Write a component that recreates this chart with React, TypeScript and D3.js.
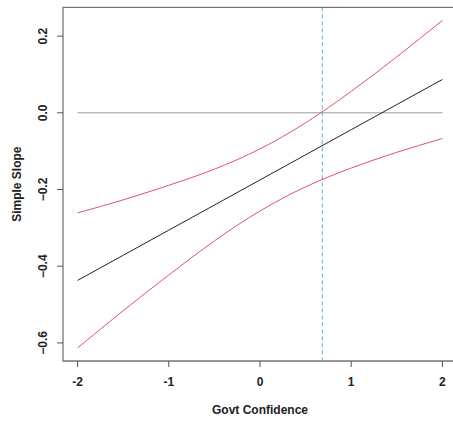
import React from "react";
import * as d3 from "d3";

const govtConfidence = [-2, -1.5, -1, -0.5, 0, 0.5, 1, 1.5, 2];
const simpleSlope = [-0.437, -0.3715, -0.306, -0.2405, -0.175, -0.1095, -0.044, 0.0215, 0.087];
const upperBand = [-0.261, -0.227, -0.189, -0.147, -0.094, -0.026, 0.056, 0.146, 0.241];
const lowerBand = [-0.613, -0.516, -0.423, -0.334, -0.256, -0.193, -0.144, -0.103, -0.067];
const xTicks = [-2, -1, 0, 1, 2];
const yTicks = [-0.6, -0.4, -0.2, 0.0, 0.2];
const jnPoint = [0.683];
const refLine = [0];

const W = 453;
const H = 422;
const left = 63;
const top = 7.3;
const right = 457;
const bottom = 361;

export default function App() {
  const xPad = (2 - -2) * 0.04;
  const x = d3.scaleLinear().domain([-2 - xPad, 2 + xPad]).range([left, right]);
  const yMin = d3.min(lowerBand) as number;
  const yMax = d3.max(upperBand) as number;
  const yPad = (yMax - yMin) * 0.04;
  const y = d3.scaleLinear().domain([yMin - yPad, yMax + yPad]).range([bottom, top]);

  const line = d3
    .line<number>()
    .x((_, i) => x(govtConfidence[i]))
    .y((d) => y(d))
    .curve(d3.curveNatural);

  const font = "'Liberation Sans', Arial, sans-serif";
  const tickFmt = d3.format(".1f");

  return (
    <svg
      width={W}
      height={H}
      style={{ position: "absolute", left: 0, top: 0, background: "#fff" }}
      fontFamily={font}
    >
      {refLine.map((v) => (
        <line
          key={"r" + v}
          x1={x(-2)}
          x2={x(2)}
          y1={y(v)}
          y2={y(v)}
          stroke="#9a9a9a"
          strokeWidth={1}
        />
      ))}
      {jnPoint.map((v) => (
        <line
          key={"j" + v}
          x1={x(v)}
          x2={x(v)}
          y1={top}
          y2={bottom}
          stroke="#5aaede"
          strokeWidth={1}
          strokeDasharray="4,3"
        />
      ))}
      <path d={line(upperBand) || ""} fill="none" stroke="#DF536B" strokeWidth={1} />
      <path d={line(lowerBand) || ""} fill="none" stroke="#DF536B" strokeWidth={1} />
      <path d={line(simpleSlope) || ""} fill="none" stroke="#222" strokeWidth={1} />

      <path
        d={`M${right + 20},${top}H${left}V${bottom}H${right + 20}`}
        fill="none"
        stroke="#777"
        strokeWidth={1.3}
      />

      {xTicks.map((t) => (
        <g key={"x" + t}>
          <line x1={x(t)} x2={x(t)} y1={bottom} y2={bottom + 6} stroke="#555" strokeWidth={1} />
          <text x={x(t)} y={386} textAnchor="middle" fontSize={12} fontWeight="bold" fill="#222">
            {t}
          </text>
        </g>
      ))}
      {yTicks.map((t) => (
        <g key={"y" + t}>
          <line x1={left - 6} x2={left} y1={y(t)} y2={y(t)} stroke="#555" strokeWidth={1} />
          <text
            transform={`translate(47,${y(t)}) rotate(-90)`}
            textAnchor="middle"
            fontSize={12}
            fontWeight="bold"
            fill="#222"
          >
            {tickFmt(t)}
          </text>
        </g>
      ))}
      <text x={(left + right) / 2} y={414} textAnchor="middle" fontSize={12} fontWeight="bold" fill="#222">
        Govt Confidence
      </text>
      <text
        transform={`translate(21,${(top + bottom) / 2}) rotate(-90)`}
        textAnchor="middle"
        fontSize={12}
        fontWeight="bold"
        fill="#222"
      >
        Simple Slope
      </text>
    </svg>
  );
}
